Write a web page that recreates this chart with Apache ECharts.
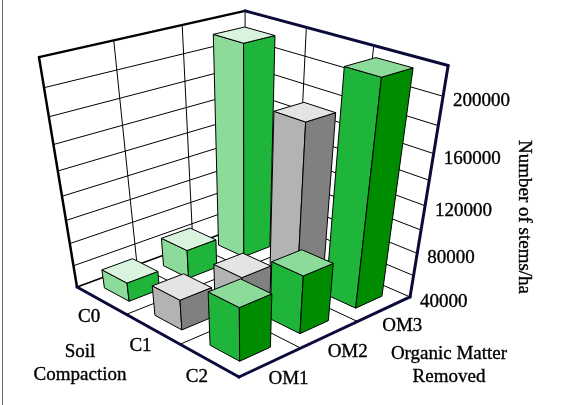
<!DOCTYPE html>
<html>
<head>
<meta charset="utf-8">
<title>Number of stems per hectare</title>
<style>html,body{margin:0;padding:0;background:#fff}#chart{width:567px;height:405px}</style>
<script src="https://cdn.jsdelivr.net/npm/echarts@6/dist/echarts.min.js"></script>
</head>
<body>
<div id="chart"></div>
<script>
// Categories and tick labels
const organicMatter = ['OM1', 'OM2', 'OM3'];
const compaction = ['C0', 'C1', 'C2'];
const stemTicks = [40000, 80000, 120000, 160000, 200000];
const stemMin = 40000, stemMax = 220000, stemStep = 20000;

// Stems per hectare, one list per compaction level, in OM1..OM3 order
const c0Stems = [57000, 66000, 214000];
const c1Stems = [67000, 65000, 173000];
const c2Stems = [87000, 91000, 218000];
const stemsByCompaction = [c0Stems, c1Stems, c2Stems];

// Left, right and top face colours per compaction level
const faceColours = [
  ['#8DDB9A', '#1EB53A', '#D9F3DF'],
  ['#B3B3B3', '#808080', '#E4E4E4'],
  ['#1EB53A', '#008C00', '#8DDB9A']
];

const FRAME_DARK = '#0B0B3B';
const LABEL_FONT = '19px "Liberation Serif", serif';
const LABEL_WEIGHT = 0.35; // hairline outline that thickens the serif strokes
const BAR_SHARE = 0.5; // part of a floor cell covered by a bar

// Perspective camera: u runs along the OM edge, v along the C edge (towards C0), h upward
function project(u, v, h) {
  const w = 1 + 0.1289 * u + 0.1444 * v - 0.2114 * h;
  return [
    (239 + 223.9 * u - 150.9 * v - 51.73 * h) / w,
    (377 - 41.76 * u - 48.5 * v - 275.2 * h) / w
  ];
}

// Depth position of a compaction level on the floor
const depthOf = function (index) {
  return echarts.number.linearMap(index, [-0.5, 2.5], [1, 0]);
};
const heightOf = function (value) {
  return echarts.number.linearMap(value, [stemMin, stemMax], [0, 1]);
};

function textStyle(text, align, lineHeight) {
  return {
    text: text,
    font: LABEL_FONT,
    fill: '#000',
    stroke: '#000',
    lineWidth: LABEL_WEIGHT,
    lineHeight: lineHeight,
    align: align || 'center',
    verticalAlign: 'middle'
  };
}

function line(a, b, stroke, width) {
  return {
    type: 'line',
    shape: { x1: a[0], y1: a[1], x2: b[0], y2: b[1] },
    style: { stroke: stroke, lineWidth: width, lineCap: 'round' },
    z2: 1
  };
}

function label(pos, dx, dy, text, align) {
  return { type: 'text', x: pos[0] + dx, y: pos[1] + dy, style: textStyle(text, align), z2: 50 };
}

// Walls, floor, their grid lines and the tick labels
function renderFrame() {
  const kids = [];
  for (let s = stemMin + stemStep; s < stemMax; s += stemStep) {
    const h = heightOf(s);
    kids.push(line(project(0, 1, h), project(1, 1, h), '#000', 1));
    kids.push(line(project(1, 1, h), project(1, 0, h), '#000', 1));
  }
  [1 / 3, 2 / 3].forEach(function (t) {
    kids.push(line(project(t, 1, 0), project(t, 1, 1), '#000', 1));
    kids.push(line(project(1, t, 0), project(1, t, 1), '#000', 1));
    kids.push(line(project(t, 0, 0), project(t, 1, 0), '#000', 1));
    kids.push(line(project(0, t, 0), project(1, t, 0), '#000', 1));
  });
  kids.push(line(project(1, 1, 0), project(1, 1, 1), '#000', 1));
  kids.push(line(project(0, 1, 0), project(1, 1, 0), '#000', 1.5));
  kids.push(line(project(1, 0, 0), project(1, 1, 0), '#000', 1));
  // Heavy outer edges
  kids.push(line(project(0, 1, 1), project(1, 1, 1), '#000', 2.5));
  kids.push(line(project(0, 1, 1), project(0, 1, 0), '#000', 2.5));
  kids.push(line(project(1, 1, 1), project(1, 0, 1), FRAME_DARK, 3));
  kids.push(line(project(1, 0, 1), project(1, 0, 0), FRAME_DARK, 3));
  kids.push(line(project(0, 1, 0), project(0, 0, 0), FRAME_DARK, 3));
  kids.push(line(project(0, 0, 0), project(1, 0, 0), FRAME_DARK, 3));

  stemTicks.forEach(function (s) {
    kids.push(label(project(1, 0, heightOf(s)), 10, 5, String(s), 'left'));
  });
  organicMatter.forEach(function (name, i) {
    kids.push(label(project((i + 0.5) / 3, 0, 0), 18, 17, name));
  });
  compaction.forEach(function (name, i) {
    kids.push(label(project(0, depthOf(i), 0), -12, 17, name));
  });
  return { type: 'group', children: kids };
}

// One bar: column position and height come from the hidden cartesian axes
function renderBar(params, api) {
  const cs = params.coordSys;
  const top = api.coord([api.value(0), api.value(2)]);
  const base = api.coord([api.value(0), stemMin]);
  const level = api.value(1);
  const uMid = (base[0] - cs.x) / cs.width;
  const vMid = depthOf(level);
  const h = (cs.y + cs.height - top[1]) / cs.height;
  const half = BAR_SHARE / 3 / 2;
  const u0 = uMid - half, u1 = uMid + half, v0 = vMid - half, v1 = vMid + half;
  const colours = faceColours[level];
  const face = function (pts, fill) {
    return {
      type: 'polygon',
      shape: { points: pts },
      style: { fill: fill, stroke: '#000', lineWidth: 1, lineJoin: 'round' }
    };
  };
  return {
    type: 'group',
    children: [
      face([project(u0, v1, 0), project(u0, v0, 0), project(u0, v0, h), project(u0, v1, h)], colours[0]),
      face([project(u0, v0, 0), project(u1, v0, 0), project(u1, v0, h), project(u0, v0, h)], colours[1]),
      face([project(u0, v0, h), project(u1, v0, h), project(u1, v1, h), project(u0, v1, h)], colours[2])
    ]
  };
}

const barData = [];
stemsByCompaction.forEach(function (row, level) {
  row.forEach(function (value, om) {
    barData.push({ om: om, level: level, value: value });
  });
});
// Far cells first so nearer bars cover them
barData.sort(function (a, b) { return (a.level - a.om) - (b.level - b.om); });

const chart = echarts.init(document.getElementById('chart'), null, { renderer: 'canvas' });
chart.setOption({
  animation: false,
  backgroundColor: '#fff',
  grid: { left: 0, right: 0, top: 0, bottom: 0 },
  xAxis: { type: 'category', data: organicMatter, show: false },
  yAxis: { type: 'value', min: stemMin, max: stemMax, interval: stemStep, show: false },
  graphic: [
    { type: 'line', silent: true, shape: { x1: 2.5, y1: 0, x2: 2.5, y2: 405 }, style: { stroke: '#6A6A6A', lineWidth: 1 } },
    { type: 'text', silent: true, x: 80, y: 364, style: textStyle('Soil\nCompaction', 'center', 23) },
    { type: 'text', silent: true, x: 449, y: 366, style: textStyle('Organic Matter\nRemoved', 'center', 23) },
    { type: 'text', silent: true, x: 524, y: 217, rotation: -Math.PI / 2, style: textStyle('Number of stems/ha') }
  ],
  series: [
    {
      type: 'custom',
      silent: true,
      z: 1,
      coordinateSystem: 'cartesian2d',
      data: [[0, stemMin]],
      clip: false,
      renderItem: renderFrame
    },
    {
      type: 'custom',
      silent: true,
      z: 2,
      coordinateSystem: 'cartesian2d',
      encode: { x: 0, y: 2 },
      data: barData.map(function (d) { return [d.om, d.level, d.value]; }),
      clip: false,
      renderItem: renderBar
    }
  ]
});
</script>
</body>
</html>
